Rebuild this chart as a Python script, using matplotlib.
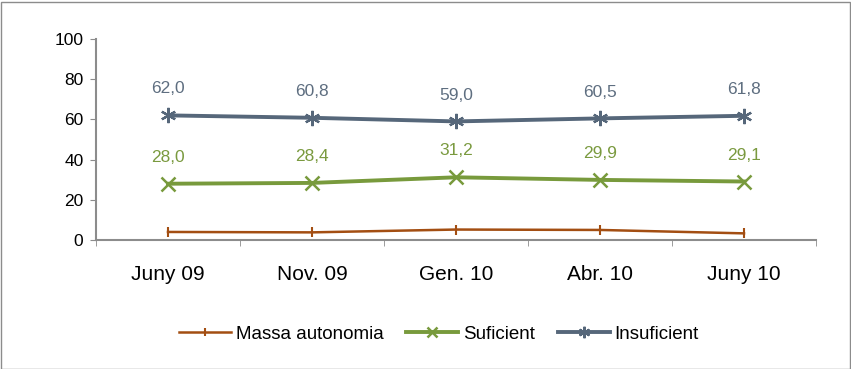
import numpy as np
import matplotlib.pyplot as plt
from matplotlib.patches import Rectangle

periods = ["Juny 09", "Nov. 09", "Gen. 10", "Abr. 10", "Juny 10"]
massa_autonomia = [4.0, 3.8, 5.2, 5.0, 3.3]
suficient = [28.0, 28.4, 31.2, 29.9, 29.1]
insuficient = [62.0, 60.8, 59.0, 60.5, 61.8]

plt.rcParams["font.family"] = ["Liberation Sans", "DejaVu Sans"]

fig = plt.figure(figsize=(8.51, 3.69), dpi=100)
ax = fig.add_axes([96 / 851, 129 / 369, 720 / 851, 201 / 369])

x = np.arange(len(periods))
ax.plot(x, massa_autonomia, color="#A34E12", lw=1.8, marker="|", ms=7, mew=1.5,
        label="Massa autonomia")
ax.plot(x, suficient, color="#789A3C", lw=2.8, marker="x", ms=10, mew=1.8,
        label="Suficient")
ax.plot(x, insuficient, color="#56677A", lw=2.8, marker=(6, 2, 0), ms=11, mew=1.6,
        label="Insuficient")

# data labels above the two main series
for xi, v in zip(x, suficient):
    ax.annotate(f"{v:.1f}".replace(".", ","), (xi, v), xytext=(0, 19),
                textcoords="offset points", ha="center", va="center",
                fontsize=12.5, color="#7A9A3F")
for xi, v in zip(x, insuficient):
    ax.annotate(f"{v:.1f}".replace(".", ","), (xi, v), xytext=(0, 19),
                textcoords="offset points", ha="center", va="center",
                fontsize=12.5, color="#5E6E80")

ax.set_xlim(-0.5, len(periods) - 0.5)
ax.set_ylim(0, 100)
ax.set_yticks(range(0, 101, 20))
ax.set_xticks(x)
ax.set_xticklabels(periods, fontsize=15)
ax.set_xticks(np.arange(len(periods) + 1) - 0.5, minor=True)
ax.tick_params(axis="x", which="major", length=0, pad=18)
ax.tick_params(axis="x", which="minor", length=4, color="#8C8C8C", direction="out")
ax.tick_params(axis="y", length=4, color="#8C8C8C", labelsize=12.5, pad=5)

for side in ["top", "right"]:
    ax.spines[side].set_visible(False)
for side in ["left", "bottom"]:
    ax.spines[side].set_color("#8C8C8C")
    ax.spines[side].set_linewidth(1.5)

ax.legend(loc="center", bbox_to_anchor=(0.476, -0.47), ncol=3, frameon=False,
          fontsize=13.5, handlelength=2.8, handletextpad=0.25, columnspacing=1.2,
          markerscale=0.75)

fig.patches.append(Rectangle((0.5 / 851, 0.5 / 369), 849 / 851, 367 / 369,
                             transform=fig.transFigure, fill=False,
                             edgecolor="#8C8C8C", lw=1))

fig.savefig("out.png", dpi=100)
